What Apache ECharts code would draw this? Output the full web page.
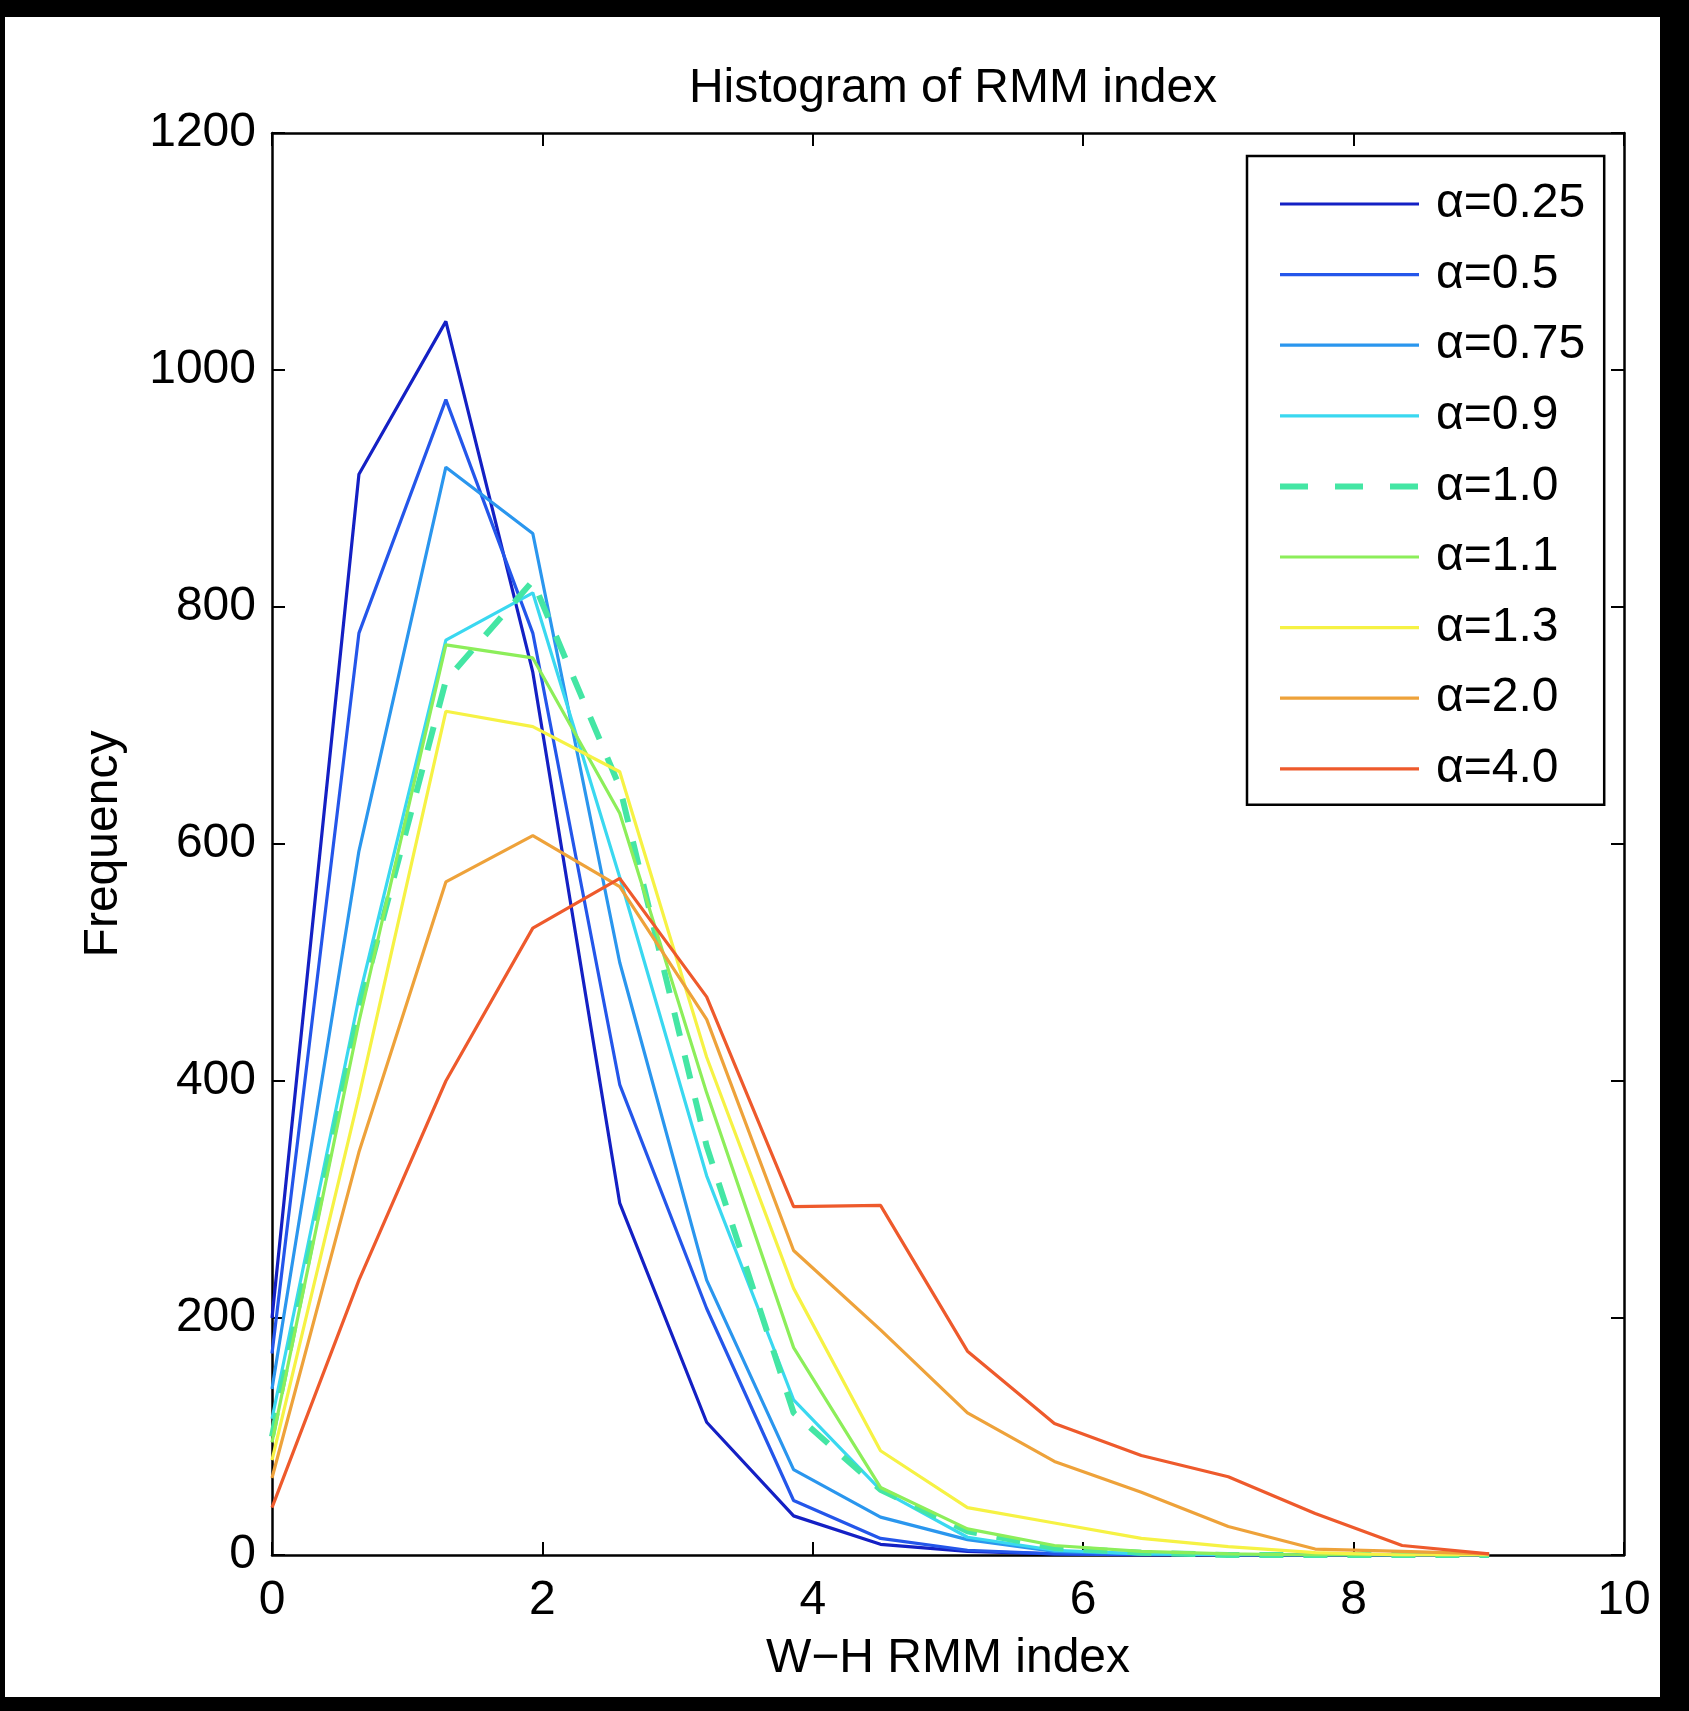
<!DOCTYPE html>
<html>
<head>
<meta charset="utf-8">
<script src="https://cdn.jsdelivr.net/npm/echarts@6/dist/echarts.min.js"></script>
<style>
  html, body { margin: 0; padding: 0; background: #000; width: 1689px; height: 1711px; overflow: hidden; }
  #chart { position: absolute; left: 5px; top: 17px; width: 1655px; height: 1680px; background: #fff; }
</style>
</head>
<body>
<div id="chart"></div>
<script>
// x positions (bin centres)
const binCentres = [0, 0.643, 1.286, 1.929, 2.572, 3.215, 3.858, 4.501, 5.144, 5.787, 6.43, 7.073, 7.716, 8.359, 9.002];
const seriesNames = ['α=0.25', 'α=0.5', 'α=0.75', 'α=0.9', 'α=1.0', 'α=1.1', 'α=1.3', 'α=2.0', 'α=4.0'];
const a025 = [200, 912, 1041, 745, 297, 112, 33, 9, 3, 1, 0, 0, 0, 0, 0];
const a05  = [170, 778, 975, 778, 397, 208, 46, 14, 4, 1, 0, 0, 0, 0, 0];
const a075 = [140, 594, 918, 862, 500, 232, 72, 32, 13, 3, 1, 0, 0, 0, 0];
const a09  = [115, 470, 772, 812, 572, 320, 131, 55, 15, 4, 1, 0, 0, 0, 0];
const a10  = [100, 460, 738, 822, 648, 345, 120, 55, 20, 6, 2, 0, 0, 0, 0];
const a11  = [95, 450, 768, 757, 626, 390, 175, 57, 22, 8, 3, 1, 0, 0, 0];
const a13  = [80, 387, 712, 699, 661, 420, 225, 88, 40, 27, 14, 7, 2, 0, 0];
const a20  = [65, 340, 568, 607, 564, 452, 257, 190, 120, 79, 53, 24, 5, 3, 1];
const a40  = [40, 232, 400, 529, 571, 471, 294, 295, 172, 111, 84, 66, 35, 8, 1];
const xTicks = [0, 2, 4, 6, 8, 10];
const yTicks = [0, 200, 400, 600, 800, 1000, 1200];

const allValues = [a025, a05, a075, a09, a10, a11, a13, a20, a40];
const colours = ['#1420c4', '#2456ea', '#2a96ee', '#3ad8f0', '#44e6a4', '#8cee5a', '#f6f244', '#eea23a', '#ee5a2c'];

const font = 'Liberation Sans, Arial, Helvetica, sans-serif';
const chart = echarts.init(document.getElementById('chart'), null, { renderer: 'canvas' });

const series = allValues.map((vals, i) => ({
  name: seriesNames[i],
  type: 'line',
  xAxisIndex: 0,
  yAxisIndex: 0,
  symbol: 'none',
  showSymbol: false,
  animation: false,
  data: vals.map((v, k) => [binCentres[k], v]),
  lineStyle: i === 4
    ? { color: colours[i], width: 6, type: [24, 20] }
    : { color: colours[i], width: 3.2 },
  itemStyle: { color: colours[i] },
  emphasis: { disabled: true }
}));

const legendData = seriesNames.map((n, i) => ({
  name: n,
  itemStyle: { opacity: 0 },
  lineStyle: i === 4
    ? { color: colours[i], width: 6, type: [28, 27], opacity: 1 }
    : { color: colours[i], width: 3.2, type: 'solid', opacity: 1 }
}));

const gridLeft = 267, gridTop = 116, gridW = 1352, gridH = 1422;
const axisLine = { show: true, onZero: false, lineStyle: { color: '#000', width: 2.5 } };
const tick = { show: true, inside: true, length: 13, lineStyle: { color: '#000', width: 2 } };

chart.setOption({
  animation: false,
  title: {
    text: 'Histogram of RMM index',
    left: 943, top: 43, textAlign: 'center',
    textStyle: { fontFamily: font, fontSize: 48, fontWeight: 'normal', color: '#000' }
  },
  grid: { left: gridLeft, top: gridTop, width: gridW, height: gridH, containLabel: false },
  legend: {
    orient: 'vertical',
    left: 1242, top: 139,
    padding: [24, 19, 12, 30],
    itemWidth: 139, itemHeight: 30, itemGap: 22.6,
    backgroundColor: '#fff', borderColor: '#000', borderWidth: 2.5,
    itemStyle: { opacity: 0 },
    textStyle: { fontFamily: font, fontSize: 48, color: '#000', padding: [0, 0, 0, 12] },
    data: legendData,
    selectedMode: false
  },
  xAxis: [{
    type: 'value', min: xTicks[0], max: xTicks[xTicks.length - 1], interval: 2,
    position: 'bottom',
    name: 'W−H RMM index', nameLocation: 'middle', nameGap: 80,
    nameTextStyle: { fontFamily: font, fontSize: 48, color: '#000' },
    axisLine, axisTick: tick,
    axisLabel: { fontFamily: font, fontSize: 48, color: '#000', margin: 22, formatter: v => String(v) },
    splitLine: { show: false }
  }, {
    type: 'value', min: xTicks[0], max: xTicks[xTicks.length - 1], interval: 2,
    position: 'top', axisLine, axisTick: tick, axisLabel: { show: false }, splitLine: { show: false }
  }],
  yAxis: [{
    type: 'value', min: yTicks[0], max: yTicks[yTicks.length - 1], interval: 200,
    position: 'left',
    name: 'Frequency', nameLocation: 'middle', nameGap: 144, nameRotate: 90,
    nameTextStyle: { fontFamily: font, fontSize: 48, color: '#000' },
    axisLine, axisTick: tick,
    axisLabel: { fontFamily: font, fontSize: 48, color: '#000', margin: 16, formatter: v => String(v) },
    splitLine: { show: false }
  }, {
    type: 'value', min: yTicks[0], max: yTicks[yTicks.length - 1], interval: 200,
    position: 'right', axisLine, axisTick: tick, axisLabel: { show: false }, splitLine: { show: false }
  }],
  series
});
</script>
</body>
</html>
